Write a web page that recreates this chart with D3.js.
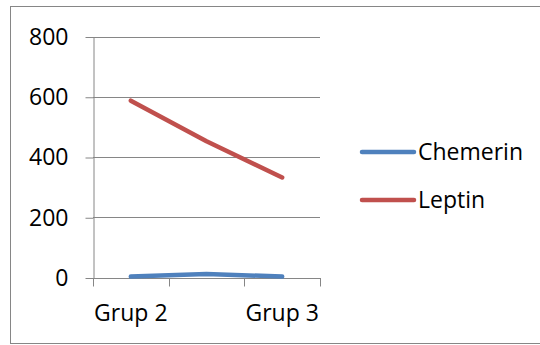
<!DOCTYPE html>
<html>
<head>
<meta charset="utf-8">
<script src="https://cdn.jsdelivr.net/npm/d3@7"></script>
<style>
  html, body { margin: 0; padding: 0; background: #fff; }
  svg { display: block; font-family: "Open Sans", "Noto Sans", sans-serif; }
</style>
</head>
<body>
<svg id="chart" width="540" height="345"></svg>
<script>
// Category labels (the middle one is left blank on the axis)
const categories = ["Grup 2", "", "Grup 3"];
const yTicks = [0, 200, 400, 600, 800];

// Series values per category
const chemerin = [3, 12, 3];
const leptin = [587, 452, 332];

const seriesNames = ["Chemerin", "Leptin"];
const seriesColors = ["#4F81BD", "#C0504D"];

const fontSize = "23px";
const svg = d3.select("#chart");

// Outer chart frame
svg.append("rect")
  .attr("x", 10.5).attr("y", 6.5)
  .attr("width", 540).attr("height", 337)
  .attr("fill", "#fff")
  .attr("stroke", "#868686").attr("stroke-width", 1);

const plot = { left: 93, right: 320, top: 36.5, bottom: 277.5 };

const x = d3.scaleBand()
  .domain(d3.range(categories.length))
  .range([plot.left, plot.right])
  .paddingInner(0).paddingOuter(0);

const y = d3.scaleLinear()
  .domain([0, 800])
  .range([plot.bottom, plot.top]);

const cx = i => x(i) + x.bandwidth() / 2;

// Horizontal gridlines
svg.append("g")
  .selectAll("line")
  .data(yTicks)
  .join("line")
  .attr("x1", plot.left).attr("x2", plot.right)
  .attr("y1", d => Math.round(y(d)) + 0.5).attr("y2", d => Math.round(y(d)) + 0.5)
  .attr("stroke", "#868686").attr("stroke-width", 1);

// Y axis with outside tick marks
const yAxis = svg.append("g")
  .attr("transform", `translate(${plot.left + 0.5},0.5)`)
  .call(d3.axisLeft(y).tickValues(yTicks).tickSize(8).tickPadding(17).tickSizeOuter(0));
yAxis.select(".domain").attr("stroke", "#868686");
yAxis.selectAll(".tick line").attr("stroke", "#868686");
yAxis.selectAll(".tick text")
  .attr("fill", "#000")
  .style("font-size", fontSize)
  .style("font-family", "'Open Sans', 'Noto Sans', sans-serif");

// X axis line with tick marks at the category boundaries
const bounds = d3.range(categories.length).map(i => x(i)).concat([x.range()[1]]);
const xg = svg.append("g");
xg.append("line")
  .attr("x1", plot.left).attr("x2", plot.right)
  .attr("y1", Math.round(y(0)) + 0.5).attr("y2", Math.round(y(0)) + 0.5)
  .attr("stroke", "#868686");
xg.selectAll("line.tick")
  .data(bounds)
  .join("line")
  .attr("class", "tick")
  .attr("x1", d => Math.round(d) + 0.5).attr("x2", d => Math.round(d) + 0.5)
  .attr("y1", Math.round(y(0))).attr("y2", Math.round(y(0)) + 8.5)
  .attr("stroke", "#868686");
xg.selectAll("text")
  .data(categories.map((c, i) => ({ c, i })).filter(d => d.c !== ""))
  .join("text")
  .attr("x", d => cx(d.i))
  .attr("y", 321)
  .attr("text-anchor", "middle")
  .style("font-size", fontSize)
  .attr("fill", "#000")
  .text(d => d.c);

// Series lines
const line = d3.line()
  .x((d, i) => cx(i))
  .y(d => y(d));

[chemerin, leptin].forEach((vals, k) => {
  svg.append("path")
    .datum(vals)
    .attr("d", line)
    .attr("fill", "none")
    .attr("stroke", seriesColors[k])
    .attr("stroke-width", 4.5)
    .attr("stroke-linecap", "round")
    .attr("stroke-linejoin", "round");
});

// Legend
const legendY = [152, 200];
const legend = svg.append("g");
seriesNames.forEach((name, k) => {
  legend.append("line")
    .attr("x1", 362).attr("x2", 414)
    .attr("y1", legendY[k]).attr("y2", legendY[k])
    .attr("stroke", seriesColors[k])
    .attr("stroke-width", 4.5)
    .attr("stroke-linecap", "round");
  legend.append("text")
    .attr("x", 418)
    .attr("y", legendY[k])
    .attr("dy", "0.35em")
    .style("font-size", fontSize)
    .attr("fill", "#000")
    .text(name);
});
</script>
</body>
</html>
